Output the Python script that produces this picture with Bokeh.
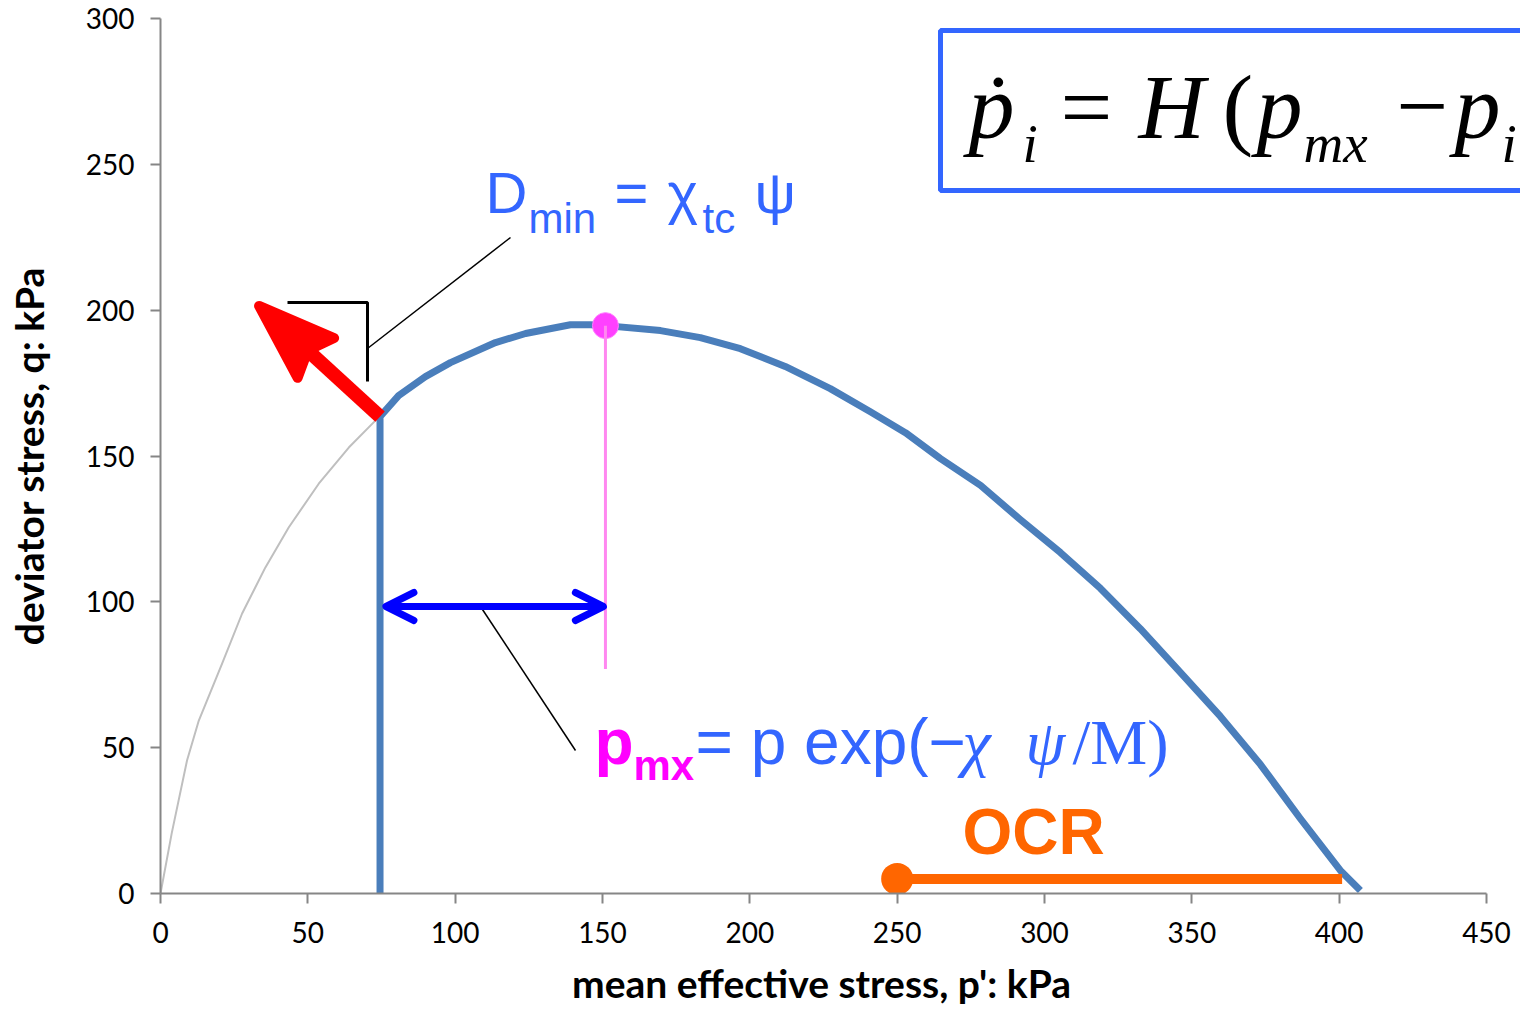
from bokeh.plotting import figure
from bokeh.models import Label, Arrow, OpenHead, Range1d, FixedTicker
from bokeh.embed import file_html
from bokeh.resources import INLINE

# ---------------- data (kPa) ----------------
p_curve = [74.5, 74.5, 80.8, 89.9, 98.4, 113.7, 123.9, 139.1, 145.9, 151.0, 169.7, 183.2,
           196.8, 212.0, 227.3, 240.9, 252.8, 264.7, 278.3, 291.8, 305.4, 319.0, 332.5,
           346.1, 359.7, 373.3, 386.8, 400.4, 407.2]
q_curve = [0.0, 163.5, 170.7, 177.2, 182.0, 188.9, 192.0, 195.0, 195.0, 194.7, 193.0, 190.6,
           186.8, 180.7, 173.1, 165.2, 158.0, 149.1, 139.9, 128.2, 116.9, 104.6, 90.8,
           75.8, 60.7, 44.2, 25.7, 7.9, 1.0]
p_grey = [0.0, 3.8, 9.0, 13.0, 20.9, 27.7, 35.6, 43.5, 53.7, 63.9, 73.0, 74.5]
q_grey = [0.0, 20.6, 45.6, 59.3, 78.8, 96.0, 111.8, 125.5, 140.5, 152.9, 162.2, 163.5]
p_peak = [151.0]
q_peak = [194.7]
q_peak_line_bottom = 77.0
p_ocr = [250.0, 401.0]
q_ocr = [5.0, 5.0]
red_arrow_start = (74.5, 163.5)
red_arrow_tip = (32.2, 202.6)
p_dist = [76.5, 150.3]
q_dist = 98.4
x_ticks = [0, 50, 100, 150, 200, 250, 300, 350, 400, 450]
y_ticks = [0, 50, 100, 150, 200, 250, 300]
x_label = "mean effective stress, p': kPa"
y_label = "deviator stress, q: kPa"

# ---------------- layout ----------------
W, H = 1520, 1011
LEFT, TOP, FRAME_H = 160, 18, 875
SX = 1326.0 / 450.0          # px per kPa (x)
SY = FRAME_H / 300.0          # px per kPa (y)
X_END = (W - LEFT) / SX
OX, OY = LEFT, TOP + FRAME_H  # picture px of the origin


def d(X, Y):
    """picture pixel -> data"""
    return ((X - OX) / SX, (OY - Y) / SY)


def px(pv, qv):
    return (OX + pv * SX, OY - qv * SY)


BLUE_TXT = "#3366ff"
CURVE = "#4a7ebb"
AXIS = "#868686"

p = figure(width=W, height=H, x_range=Range1d(0, X_END), y_range=Range1d(0, 300),
           output_backend="svg", toolbar_location=None,
           min_border_left=LEFT, min_border_right=0, min_border_top=TOP,
           min_border_bottom=H - TOP - FRAME_H)
p.outline_line_color = None
p.xgrid.grid_line_color = None
p.ygrid.grid_line_color = None
p.background_fill_color = "white"
p.border_fill_color = "white"

for ax, ticks, bnd, lab_ in ((p.xaxis[0], x_ticks, (0, 450), x_label + "\u00a0" * 4),
                             (p.yaxis[0], y_ticks, (0, 300), y_label)):
    ax.ticker = FixedTicker(ticks=ticks)
    ax.bounds = bnd
    ax.axis_line_color = AXIS
    ax.axis_line_width = 2
    ax.major_tick_line_color = AXIS
    ax.major_tick_line_width = 2
    ax.major_tick_out = 10
    ax.major_tick_in = 0
    ax.minor_tick_line_color = None
    ax.major_label_text_font = "Lato"
    ax.major_label_text_font_size = "28px"
    ax.major_label_text_color = "black"
    ax.axis_label = lab_
    ax.axis_label_text_font = "Lato"
    ax.axis_label_text_font_style = "bold"
    ax.axis_label_text_font_size = "39px"
    ax.axis_label_text_color = "black"
p.xaxis[0].major_label_standoff = 18
p.xaxis[0].axis_label_standoff = 14
p.yaxis[0].major_label_standoff = 16
p.yaxis[0].axis_label_standoff = 31

# equation box
bx0, by0 = d(940, 30)
bx1, by1 = d(1600, 190)
p.quad(left=[bx0], right=[bx1], top=[by0], bottom=[by1], fill_color=None,
       line_color=BLUE_TXT, line_width=5)

# grey curve
p.line(p_grey, q_grey, line_color="#bfbfbf", line_width=2)

# main curve
p.line(p_curve, q_curve, line_color=CURVE, line_width=7, line_join="round")

# peak dot and vertical line
p.scatter(p_peak, q_peak, size=26, fill_color="#ff40ff", line_color="#ff80ff", line_width=1)
p.line([p_peak[0], p_peak[0]], [q_peak[0], q_peak_line_bottom], line_color="#ff88f0", line_width=3)

# OCR line
p.line(p_ocr, q_ocr, line_color="#ff6600", line_width=10)
p.scatter([p_ocr[0]], [q_ocr[0]], size=32, fill_color="#ff6600", line_color=None)

# red arrow (shaft + rounded vee head)
SXp, SYp = px(*red_arrow_start)
TXp, TYp = px(*red_arrow_tip)
L = ((TXp - SXp) ** 2 + (TYp - SYp) ** 2) ** 0.5
ux, uy = (TXp - SXp) / L, (TYp - SYp) / L
nx, ny = -uy, ux


def along(a, b):
    return d(TXp - ux * a + nx * b, TYp - uy * a + ny * b)


head = [along(5, 0), along(82, 27), along(71, 0), along(82, -27)]
p.patch([h[0] for h in head], [h[1] for h in head], fill_color="#ff0000",
        line_color="#ff0000", line_width=10, line_join="round")
sh_end = along(72, 0)
p.line([red_arrow_start[0], sh_end[0]], [red_arrow_start[1], sh_end[1]],
       line_color="#ff0000", line_width=14)

# slope bracket and leader lines
b1, b2, b3 = d(287, 302), d(367, 302), d(367, 381)
p.line([b1[0], b2[0], b3[0]], [b1[1], b2[1], b3[1]], line_color="black", line_width=3)
l1, l2 = d(367, 348), d(510, 237)
p.line([l1[0], l2[0]], [l1[1], l2[1]], line_color="black", line_width=1.5)
l3, l4 = d(480, 606), d(575, 750)
p.line([l3[0], l4[0]], [l3[1], l4[1]], line_color="black", line_width=1.5)

# blue double arrow
oh = dict(size=28, line_color="#0000ff", line_width=7, line_cap="round", line_join="round")
p.add_layout(Arrow(start=OpenHead(**oh), end=OpenHead(**oh),
                   x_start=p_dist[0], y_start=q_dist, x_end=p_dist[1], y_end=q_dist,
                   line_color="#0000ff", line_width=7))


def lab(text, X, Y, size, color, font="Liberation Sans", style="normal", align="left"):
    # Y is the wanted baseline in picture px; compensate renderer offset
    x, y = d(X, Y - 0.36 * size)
    p.add_layout(Label(x=x, y=y, text=text, text_font=font, text_font_size=f"{size}px",
                       text_color=color, text_font_style=style,
                       text_baseline="alphabetic", text_align=align))


# D_min label
lab("D", 485, 213, 58, BLUE_TXT)
lab("min", 528, 233, 42, BLUE_TXT)
lab("=", 614, 213, 58, BLUE_TXT)
lab("χ", 667, 213, 58, BLUE_TXT)
lab("tc", 702, 233, 42, BLUE_TXT)
lab("ψ", 754, 213, 58, BLUE_TXT)

# p_mx label
lab("p", 594, 765, 64, "#ff00ff", style="bold")
lab("mx", 633, 780, 42, "#ff00ff", style="bold")
lab("= p exp(\u2212", 695, 765, 64, BLUE_TXT)
lab("χ", 962, 765, 64, BLUE_TXT, font="Liberation Serif", style="italic")
lab("ψ", 1025, 765, 64, BLUE_TXT, font="Liberation Serif", style="italic")
lab("/M)", 1072, 765, 64, BLUE_TXT, font="Liberation Serif")

# OCR
lab("OCR", 962, 855, 64, "#ff6600", style="bold")

# equation
SER = "Liberation Serif"
lab("\u1e57", 968, 140, 92, "black", font=SER, style="italic")
lab("i", 1022, 163, 55, "black", font=SER, style="italic")
lab("=", 1060, 140, 92, "black", font=SER)
lab("H", 1138, 140, 92, "black", font=SER, style="italic")
lab("(", 1222, 140, 92, "black", font=SER)
lab("p", 1256, 140, 92, "black", font=SER, style="italic")
lab("mx", 1303, 163, 55, "black", font=SER, style="italic")
lab("\u2212", 1396, 140, 92, "black", font=SER)
lab("p", 1454, 140, 92, "black", font=SER, style="italic")
lab("i", 1501, 163, 55, "black", font=SER, style="italic")

open("out.html", "w").write(file_html(p, INLINE))
